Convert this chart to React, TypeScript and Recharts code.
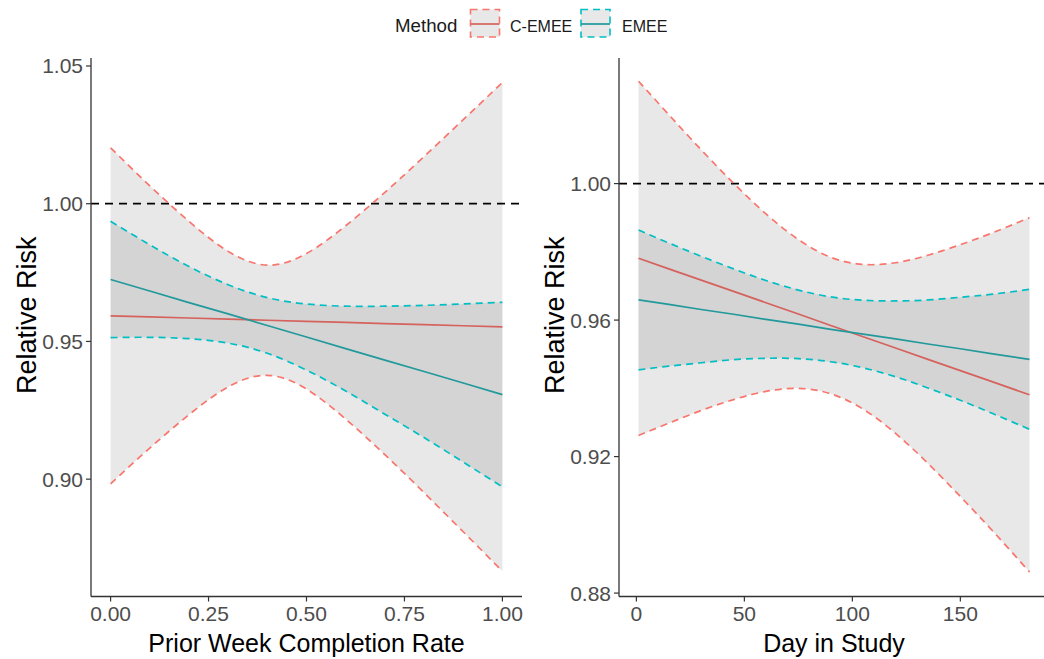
import React from "react";
import { ComposedChart, Area, Line, XAxis, YAxis, ReferenceLine, Label } from "recharts";

// Prior week completion rate panel
const rateX = [0, 0.1, 0.2, 0.3, 0.4, 0.5, 0.6, 0.7, 0.8, 0.9, 1.0];
const rateCemeeMid = [0.9593, 0.9589, 0.9585, 0.9581, 0.9577, 0.9573, 0.9569, 0.9565, 0.9561, 0.9557, 0.9553];
const rateCemeeHi = [1.0203, 1.0065, 0.9936, 0.9827, 0.9777, 0.9819, 0.992, 1.0041, 1.0171, 1.0305, 1.044];
const rateCemeeLo = [0.8983, 0.9113, 0.9234, 0.9335, 0.9377, 0.9327, 0.9218, 0.9089, 0.8951, 0.8809, 0.8666];
const rateEmeeMid = [0.9725, 0.9683, 0.9641, 0.96, 0.9558, 0.9516, 0.9474, 0.9432, 0.9391, 0.9349, 0.9307];
const rateEmeeHi = [0.9936, 0.9851, 0.9772, 0.9706, 0.9659, 0.9636, 0.9628, 0.9628, 0.9631, 0.9636, 0.9642];
const rateEmeeLo = [0.9514, 0.9515, 0.951, 0.9494, 0.9457, 0.9396, 0.932, 0.9236, 0.9151, 0.9062, 0.8972];
const rateXTicks = [0, 0.25, 0.5, 0.75, 1];
const rateYTicks = [0.9, 0.95, 1.0, 1.05];

// Day in study panel
const dayX = [1, 15, 30, 45, 60, 75, 90, 105, 120, 135, 150, 165, 182];
const dayCemeeMid = [0.9781, 0.975, 0.9717, 0.9684, 0.9651, 0.9618, 0.9584, 0.9551, 0.9518, 0.9485, 0.9452, 0.9419, 0.9381];
const dayCemeeHi = [1.03, 1.0202, 1.0099, 1.0001, 0.9911, 0.9836, 0.9784, 0.9763, 0.9768, 0.979, 0.9821, 0.9856, 0.99];
const dayCemeeLo = [0.9262, 0.9298, 0.9335, 0.9367, 0.9391, 0.94, 0.9384, 0.9339, 0.9268, 0.918, 0.9083, 0.8982, 0.8862];
const dayEmeeMid = [0.9659, 0.9646, 0.9631, 0.9617, 0.9602, 0.9588, 0.9573, 0.9559, 0.9545, 0.953, 0.9516, 0.9501, 0.9485];
const dayEmeeHi = [0.9864, 0.9826, 0.9787, 0.975, 0.9716, 0.9688, 0.9668, 0.9658, 0.9656, 0.9659, 0.9667, 0.9676, 0.969];
const dayEmeeLo = [0.9454, 0.9465, 0.9475, 0.9484, 0.9488, 0.9487, 0.9478, 0.946, 0.9434, 0.9401, 0.9365, 0.9326, 0.928];
const dayXTicks = [0, 50, 100, 150];
const dayYTicks = [0.88, 0.92, 0.96, 1.0];

const RED = "#F8766D";
const TEAL = "#00BFC4";
const RED_DARK = "#d5625d";
const TEAL_DARK = "#22999b";
const FONT = "'Liberation Sans', Arial, sans-serif";

function buildRows(xs: number[], cm: number[], ch: number[], cl: number[], em: number[], eh: number[], el: number[]) {
  return xs.map((x, i) => ({
    x,
    cMid: cm[i],
    cHi: ch[i],
    cLo: cl[i],
    eMid: em[i],
    eHi: eh[i],
    eLo: el[i],
    cBand: [cl[i], ch[i]],
    eBand: [el[i], eh[i]],
  }));
}

const rateRows = buildRows(rateX, rateCemeeMid, rateCemeeHi, rateCemeeLo, rateEmeeMid, rateEmeeHi, rateEmeeLo);
const dayRows = buildRows(dayX, dayCemeeMid, dayCemeeHi, dayCemeeLo, dayEmeeMid, dayEmeeHi, dayEmeeLo);

const YTitle = (props: any) => {
  const vb = props.viewBox || { x: 0, y: 0, width: 0, height: 0 };
  const cx = vb.x + 25;
  const cy = vb.y + vb.height / 2 - 12;
  return (
    <text x={cx} y={cy} transform={`rotate(-90 ${cx} ${cy})`} textAnchor="middle" dominantBaseline="central"
      fontSize={27} fill="#000" fontFamily={FONT}>
      Relative Risk
    </text>
  );
};

const XTitle = (text: string) => (props: any) => {
  const vb = props.viewBox || { x: 0, y: 0, width: 0, height: 0 };
  return (
    <text x={vb.x + vb.width / 2} y={vb.y + 46} textAnchor="middle" dominantBaseline="central"
      fontSize={25} fill="#000" fontFamily={FONT}>
      {text}
    </text>
  );
};

const axisProps = {
  axisLine: { stroke: "#333", strokeWidth: 1.3 },
  tickLine: { stroke: "#333", strokeWidth: 1.2 },
  tick: { fill: "#4d4d4d", fontSize: 21, fontFamily: FONT },
  tickSize: 5,
};

function Panel(props: {
  rows: any[];
  xDomain: [number, number];
  yDomain: [number, number];
  xTicks: number[];
  yTicks: number[];
  xFmt: (v: number) => string;
  yFmt: (v: number) => string;
  xTitle: string;
  width: number;
  right: number;
}) {
  const { rows } = props;
  return (
    <ComposedChart width={props.width} height={659} data={rows} margin={{ top: 58, right: props.right, bottom: 0, left: 0 }}>
      <XAxis dataKey="x" type="number" domain={props.xDomain} ticks={props.xTicks} tickFormatter={props.xFmt}
        allowDataOverflow height={62.5} tickMargin={5} {...axisProps}>
        <Label content={XTitle(props.xTitle)} />
      </XAxis>
      <YAxis type="number" domain={props.yDomain} ticks={props.yTicks} tickFormatter={props.yFmt}
        allowDataOverflow width={89} tickMargin={3} {...axisProps}>
        <Label content={YTitle} />
      </YAxis>
      <Area dataKey="cBand" type="natural" fill="#4d4d4d" fillOpacity={0.13} stroke="none" isAnimationActive={false} />
      <Area dataKey="eBand" type="natural" fill="#4d4d4d" fillOpacity={0.13} stroke="none" isAnimationActive={false} />
      <ReferenceLine y={1} stroke="#000" strokeWidth={1.8} strokeDasharray="8 6" />
      <Line dataKey="cMid" type="linear" stroke={RED_DARK} strokeWidth={1.7} dot={false} isAnimationActive={false} />
      <Line dataKey="eMid" type="linear" stroke={TEAL_DARK} strokeWidth={1.7} dot={false} isAnimationActive={false} />
      <Line dataKey="cHi" type="natural" stroke={RED} strokeWidth={1.7} strokeDasharray="7 5" dot={false} isAnimationActive={false} />
      <Line dataKey="cLo" type="natural" stroke={RED} strokeWidth={1.7} strokeDasharray="7 5" dot={false} isAnimationActive={false} />
      <Line dataKey="eHi" type="natural" stroke={TEAL} strokeWidth={1.7} strokeDasharray="7 5" dot={false} isAnimationActive={false} />
      <Line dataKey="eLo" type="natural" stroke={TEAL} strokeWidth={1.7} strokeDasharray="7 5" dot={false} isAnimationActive={false} />
    </ComposedChart>
  );
}

function LegendKey({ x, color, line }: { x: number; color: string; line: string }) {
  return (
    <g>
      <rect x={x} y={9.5} width={29} height={27.5} fill="#e8e8e8" stroke={color} strokeWidth={1.6} strokeDasharray="7 5" />
      <line x1={x} x2={x + 29} y1={24} y2={24} stroke={line} strokeWidth={1.7} />
    </g>
  );
}

export default function App() {
  return (
    <div style={{ position: "fixed", left: 0, top: 0, width: 1044, height: 659, overflow: "hidden", background: "#fff" }}>
      <svg width={1044} height={50} style={{ position: "absolute", left: 0, top: 0 }}>
        <text x={395} y={31.5} fontSize={18.7} fill="#1a1a1a" fontFamily={FONT}>Method</text>
        <LegendKey x={470.5} color={RED} line={RED_DARK} />
        <text x={510} y={31.5} fontSize={16} fill="#1a1a1a" fontFamily={FONT}>C-EMEE</text>
        <LegendKey x={581} color={TEAL} line={TEAL_DARK} />
        <text x={622} y={31.5} fontSize={16} fill="#1a1a1a" fontFamily={FONT}>EMEE</text>
      </svg>
      <div style={{ position: "absolute", left: 2, top: 0 }}>
        <Panel rows={rateRows} xDomain={[-0.05, 1.05]} yDomain={[0.8574, 1.0529]} xTicks={rateXTicks} yTicks={rateYTicks}
          xFmt={(v) => v.toFixed(2)} yFmt={(v) => v.toFixed(2)} xTitle="Prior Week Completion Rate" width={528} right={8} />
      </div>
      <div style={{ position: "absolute", left: 530, top: 0 }}>
        <Panel rows={dayRows} xDomain={[-8.05, 191.05]} yDomain={[0.879, 1.0368]} xTicks={dayXTicks} yTicks={dayYTicks}
          xFmt={(v) => String(v)} yFmt={(v) => v.toFixed(2)} xTitle="Day in Study" width={520} right={1} />
      </div>
    </div>
  );
}
